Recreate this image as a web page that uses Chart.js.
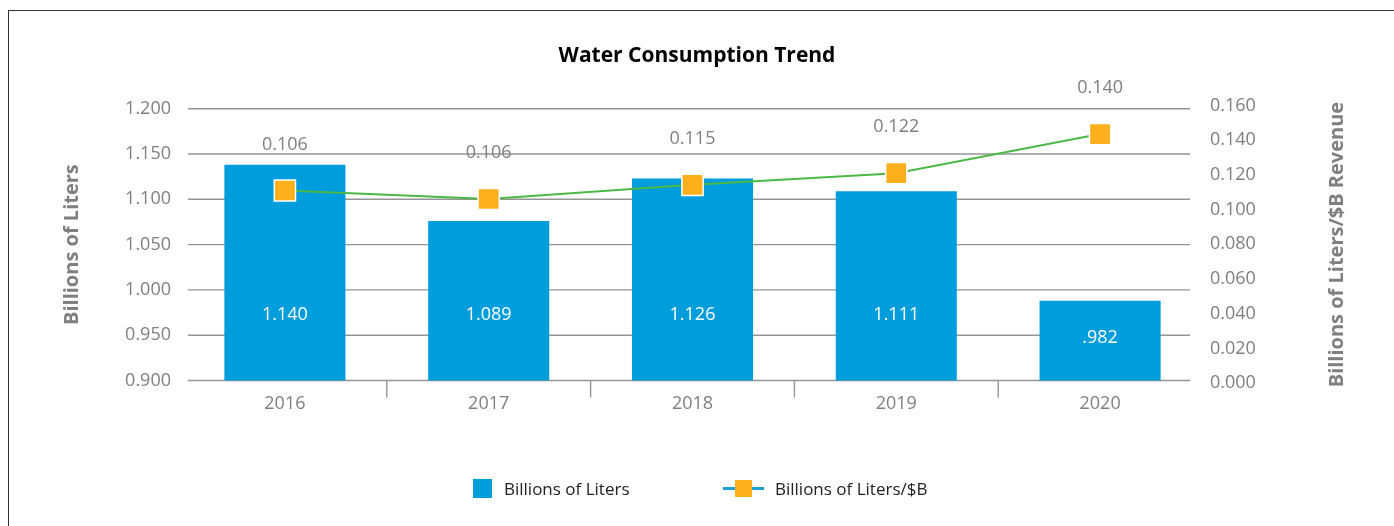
<!DOCTYPE html>
<html>
<head>
<meta charset="utf-8">
<script src="https://cdn.jsdelivr.net/npm/chart.js@4/dist/chart.umd.min.js"></script>
<style>
  html, body { margin: 0; padding: 0; background: #fff; overflow: hidden; }
  body { width: 1394px; height: 526px; position: relative; font-family: "Open Sans", sans-serif; }
  #frame { position: absolute; left: 8px; top: 10px; width: 2000px; height: 1000px;
           border-left: 1px solid #333; border-top: 1px solid #333; }
  #chart { position: absolute; left: 0; top: 0; }
  .legend-item { position: absolute; top: 479px; height: 19px; display: flex; align-items: center;
                 font-size: 17px; color: #222; }
  .swatch-bar { width: 19px; height: 19px; background: #009ddc; margin-right: 12px; }
  .swatch-line { position: relative; width: 40px; height: 19px; margin-right: 12px; }
  .swatch-line .dash { position: absolute; top: 8px; height: 3px; width: 12px; background: #1ba0dc; }
  .swatch-line .mark { position: absolute; left: 12px; top: 1px; width: 17px; height: 17px; background: #fdb01b; }
</style>
</head>
<body>
<div id="frame"></div>
<canvas id="chart" width="1394" height="526"></canvas>
<div class="legend-item" style="left:473px"><span class="swatch-bar"></span>Billions of Liters</div>
<div class="legend-item" style="left:723px"><span class="swatch-line"><span class="dash" style="left:0"></span><span class="mark"></span><span class="dash" style="left:29px"></span></span>Billions of Liters/$B</div>
<script>
const years = ['2016', '2017', '2018', '2019', '2020'];
// bar heights as drawn, and the labels printed on them
const liters = [1.138, 1.076, 1.123, 1.109, 0.988];
const litersLabels = ['1.140', '1.089', '1.126', '1.111', '.982'];
// line points as drawn, and their printed labels
const perRevenue = [0.111, 0.1061, 0.1143, 0.121, 0.1435];
const perRevenueLabels = ['0.106', '0.106', '0.115', '0.122', '0.140'];
const leftTicks = [0.9, 0.95, 1.0, 1.05, 1.1, 1.15, 1.2];
const rightTicks = [0, 0.02, 0.04, 0.06, 0.08, 0.1, 0.12, 0.14, 0.16];

const GRAY = '#7f7f7f';
const FONT = '"Open Sans", sans-serif';

const chartExtras = {
  id: 'chartExtras',
  beforeDatasetsDraw(chart) {
    const ctx = chart.ctx;
    const area = chart.chartArea;
    const y = chart.scales.y;
    const x = chart.scales.x;
    ctx.save();
    ctx.strokeStyle = '#959595';
    ctx.lineWidth = 1.4;
    leftTicks.forEach(v => {
      const py = y.getPixelForValue(v);
      ctx.beginPath();
      ctx.moveTo(area.left + 5, py);
      ctx.lineTo(area.right - 12, py);
      ctx.stroke();
    });
    // category separators below the axis
    for (let i = 1; i < years.length; i++) {
      const px = (x.getPixelForValue(i - 1) + x.getPixelForValue(i)) / 2;
      ctx.beginPath();
      ctx.moveTo(px, area.bottom);
      ctx.lineTo(px, area.bottom + 17);
      ctx.stroke();
    }
    // right axis title, reading bottom to top
    ctx.save();
    ctx.translate(1337, (area.top + area.bottom) / 2);
    ctx.rotate(-Math.PI / 2);
    ctx.font = 'bold 20px ' + FONT;
    ctx.fillStyle = GRAY;
    ctx.textAlign = 'center';
    ctx.textBaseline = 'middle';
    ctx.fillText('Billions of Liters/$B Revenue', 0, 0);
    ctx.restore();
    ctx.restore();
  },
  afterDatasetsDraw(chart) {
    const ctx = chart.ctx;
    const area = chart.chartArea;
    ctx.save();
    ctx.font = '18px ' + FONT;
    ctx.textAlign = 'center';
    ctx.textBaseline = 'middle';
    chart.getDatasetMeta(0).data.forEach((bar, i) => {
      ctx.fillStyle = '#ffffff';
      ctx.fillText(litersLabels[i], bar.x, Math.max(bar.y + 37, area.bottom - 65.5));
    });
    chart.getDatasetMeta(1).data.forEach((pt, i) => {
      ctx.fillStyle = GRAY;
      ctx.fillText(perRevenueLabels[i], pt.x, pt.y - 46);
    });
    ctx.restore();
  }
};

new Chart(document.getElementById('chart'), {
  data: {
    labels: years,
    datasets: [
      {
        type: 'bar',
        label: 'Billions of Liters',
        data: liters,
        yAxisID: 'y',
        backgroundColor: '#009ddc',
        categoryPercentage: 1,
        barPercentage: 0.594,
        order: 2
      },
      {
        type: 'line',
        label: 'Billions of Liters/$B',
        data: perRevenue,
        yAxisID: 'y1',
        borderColor: '#4cb848',
        borderWidth: 2,
        pointStyle: 'rect',
        pointRadius: 15,
        pointBackgroundColor: '#fdb01b',
        pointBorderColor: '#ffffff',
        pointBorderWidth: 1.5,
        tension: 0,
        order: 1
      }
    ]
  },
  options: {
    responsive: false,
    animation: false,
    layout: { padding: 0 },
    plugins: {
      legend: { display: false },
      tooltip: { enabled: false },
      title: {
        display: true,
        text: 'Water Consumption Trend',
        color: '#000',
        font: { family: FONT, size: 21, weight: 'bold' },
        padding: { top: 43, bottom: 40.5 }
      }
    },
    scales: {
      x: {
        grid: { display: false, drawTicks: false },
        border: { display: false },
        ticks: { color: GRAY, font: { family: FONT, size: 18 }, padding: 13 },
        afterFit: s => { s.height = 145.5; }
      },
      y: {
        position: 'left',
        min: 0.9,
        max: 1.2,
        bounds: 'data',
        grid: { display: false, drawTicks: false },
        border: { display: false },
        afterBuildTicks: s => { s.ticks = leftTicks.map(v => ({ value: v })); },
        ticks: {
          color: GRAY, font: { family: FONT, size: 18 }, padding: 12,
          callback: v => v.toFixed(3)
        },
        title: {
          display: true, text: 'Billions of Liters', color: GRAY,
          font: { family: FONT, size: 20, weight: 'bold' }, padding: { top: 60 }
        },
        afterFit: s => { s.width = 183; }
      },
      y1: {
        position: 'right',
        // the right axis runs a little past the plot area at both ends
        min: 0.0016,
        max: 0.1581,
        bounds: 'data',
        grid: { display: false, drawTicks: false },
        border: { display: false },
        afterBuildTicks: s => { s.ticks = rightTicks.map(v => ({ value: v })); },
        ticks: {
          color: GRAY, font: { family: FONT, size: 18 }, padding: 8,
          callback: v => v.toFixed(3)
        },
        afterFit: s => { s.width = 192; }
      }
    }
  },
  plugins: [chartExtras]
});
</script>
</body>
</html>
